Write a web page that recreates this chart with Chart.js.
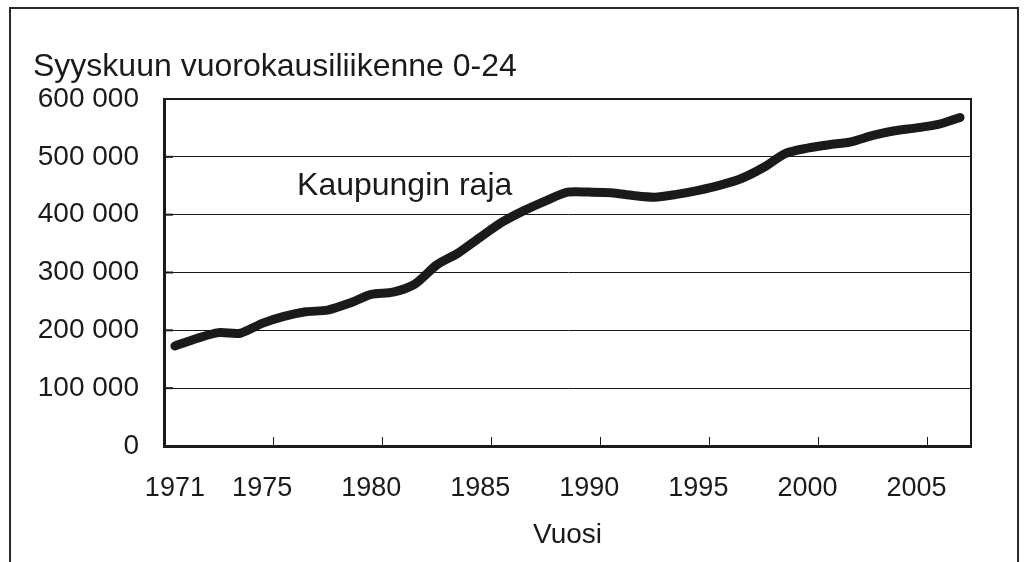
<!DOCTYPE html>
<html>
<head>
<meta charset="utf-8">
<script src="https://cdn.jsdelivr.net/npm/chart.js@4"></script>
<style>
	html, body { margin: 0; padding: 0; background: #fff; overflow: hidden; }
	.wrap { position: relative; width: 1025px; height: 562px; }
	.frame { position: absolute; left: 9px; top: 7px; width: 1006px; height: 700px; border: 2px solid #2a2a2a; border-bottom: none; }
	canvas { position: absolute; left: 0; top: 0; }
</style>
</head>
<body>
<div class="wrap">
	<div class="frame"></div>
	<canvas id="myChart" width="1025" height="562"></canvas>
</div>
<script>
const years = ['1971', '1972', '1973', '1974', '1975', '1976', '1977', '1978', '1979', '1980',
	'1981', '1982', '1983', '1984', '1985', '1986', '1987', '1988', '1989', '1990',
	'1991', '1992', '1993', '1994', '1995', '1996', '1997', '1998', '1999', '2000',
	'2001', '2002', '2003', '2004', '2005', '2006', '2007']
const traffic = [173000, 186000, 196000, 195000, 212000, 224000, 232000, 235000, 247000, 262000,
	266000, 280000, 313000, 334000, 361000, 387000, 407000, 424000, 439000, 439000,
	438000, 433000, 430000, 435000, 442000, 451000, 463000, 482000, 506000, 515000,
	521000, 526000, 537000, 545000, 550000, 556000, 568000]
const shownYears = ['1971', '1975', '1980', '1985', '1990', '1995', '2000', '2005']
const tickMarkAfter = ['1975', '1980', '1985', '1990', '1995', '2000', '2005']
const yMin = 0
const yMax = 600000
const yStep = 100000

const ink = '#1a1a1a'
const fontFamily = '"Liberation Sans", Arial, sans-serif'

const formatThousands = (v) => String(v).replace(/\B(?=(\d{3})+(?!\d))/g, ' ')

// frame round the plot, inner tick marks and the label
const plotDecor = {
	id: 'plotDecor',
	beforeDatasetsDraw(chart) {
		const { ctx, chartArea: area, scales: { x, y } } = chart
		ctx.save()
		ctx.strokeStyle = ink
		ctx.lineWidth = 2
		ctx.strokeRect(area.left, area.top, area.right - area.left, area.bottom - area.top)
		ctx.lineWidth = 1
		tickMarkAfter.forEach((year) => {
			const i = years.indexOf(year)
			const px = Math.round((x.getPixelForValue(i) + x.getPixelForValue(i + 1)) / 2) + 0.5
			ctx.beginPath()
			ctx.moveTo(px, area.bottom)
			ctx.lineTo(px, area.bottom - 9)
			ctx.stroke()
		})
		ctx.lineWidth = 2
		y.ticks.forEach((t) => {
			const py = y.getPixelForValue(t.value)
			ctx.beginPath()
			ctx.moveTo(area.left, py)
			ctx.lineTo(area.left + 9, py)
			ctx.stroke()
		})
		ctx.restore()
	},
	afterDatasetsDraw(chart) {
		const { ctx, scales: { x, y } } = chart
		ctx.save()
		ctx.fillStyle = ink
		ctx.font = '32px ' + fontFamily
		ctx.textAlign = 'left'
		ctx.textBaseline = 'alphabetic'
		ctx.fillText('Kaupungin raja', x.getPixelForValue(5.6), y.getPixelForValue(434000))
		ctx.restore()
	},
}

const chart = document.getElementById('myChart')
new Chart(chart, {
	type: 'line',
	data: {
		labels: years,
		datasets: [
			{
				data: traffic,
				borderColor: ink,
				borderWidth: 9,
				borderCapStyle: 'round',
				borderJoinStyle: 'round',
				pointRadius: 0,
				tension: 0.25,
				fill: false,
			},
		],
	},
	options: {
		responsive: false,
		animation: false,
		layout: {
			padding: { left: 33, top: 48, right: 54, bottom: 0 },
		},
		scales: {
			x: {
				type: 'category',
				offset: true,
				afterFit: (s) => { s.height = 116 },
				grid: { display: false },
				border: { display: true, color: ink, width: 3 },
				ticks: {
					autoSkip: false,
					maxRotation: 0,
					padding: 18,
					color: ink,
					font: { family: fontFamily, size: 27 },
					callback: function (value) {
						const label = this.getLabelForValue(value)
						return shownYears.includes(label) ? label : ''
					},
				},
				title: {
					display: true,
					text: 'Vuosi',
					color: ink,
					font: { family: fontFamily, size: 28 },
					padding: { top: 0, bottom: 10 },
				},
			},
			y: {
				min: yMin,
				max: yMax,
				afterFit: (s) => { s.width = 131 },
				grid: { color: ink, lineWidth: 1, drawTicks: false },
				border: { display: true, color: ink, width: 3 },
				ticks: {
					stepSize: yStep,
					padding: 25,
					color: ink,
					font: { family: fontFamily, size: 28 },
					callback: (v) => formatThousands(v),
				},
			},
		},
		plugins: {
			legend: { display: false },
			tooltip: { enabled: false },
			title: {
				display: true,
				text: 'Syyskuun vuorokausiliikenne 0-24',
				align: 'start',
				color: ink,
				font: { family: fontFamily, size: 32, weight: 'normal' },
				padding: { top: 0, bottom: 12.6 },
			},
		},
	},
	plugins: [plotDecor],
})
</script>
</body>
</html>
